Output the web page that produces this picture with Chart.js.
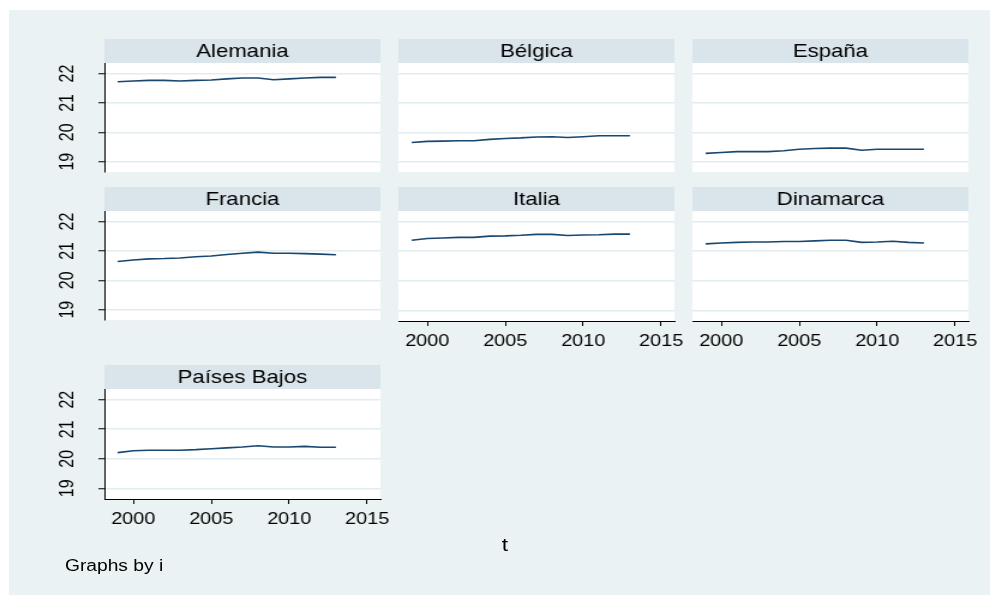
<!DOCTYPE html>
<html lang="es">
<head>
<meta charset="utf-8">
<title>Graphs by i</title>
<script src="https://cdn.jsdelivr.net/npm/chart.js@4.4.1/dist/chart.umd.min.js"></script>
<style>
  html, body { margin: 0; padding: 0; background: #ffffff; }
  body { width: 990px; height: 595px; position: relative; overflow: hidden;
         font-family: Arial, "Liberation Sans", sans-serif; }
  /* graph region */
  #region { position: absolute; left: 9px; top: 10px; right: 0; bottom: 0; background: #eaf2f3; }
  /* everything is laid out narrow and stretched sideways, like the exported graph */
  #stage { position: absolute; left: 0; top: 0; width: 825px; height: 595px;
           transform: scaleX(1.2); transform-origin: 0 0; }
  .panel { position: absolute; width: 292px; }
  .note { position: absolute; color: #000; white-space: nowrap; }
  #xtitle { font-size: 19px; transform: translateX(-50%); }
  #byline { font-size: 16px; }
</style>
</head>
<body>
<div id="region"></div>
<div id="stage">
  <div class="note" id="xtitle">t</div>
  <div class="note" id="byline">Graphs by i</div>
</div>

<script>
// ===============================
// Data
// ===============================
const years = [1999, 2000, 2001, 2002, 2003, 2004, 2005, 2006, 2007, 2008, 2009, 2010, 2011, 2012, 2013];
const xTicks = [2000, 2005, 2010, 2015];
const yTicks = [19, 20, 21, 22];
const countries = ['Alemania', 'Bélgica', 'España', 'Francia', 'Italia', 'Dinamarca', 'Países Bajos'];

const alemania   = [21.72, 21.75, 21.77, 21.77, 21.75, 21.77, 21.78, 21.82, 21.85, 21.85, 21.79, 21.82, 21.85, 21.87, 21.87];
const belgica    = [19.65, 19.69, 19.70, 19.71, 19.71, 19.76, 19.79, 19.81, 19.84, 19.85, 19.82, 19.85, 19.88, 19.88, 19.88];
const espana     = [19.28, 19.31, 19.34, 19.34, 19.34, 19.37, 19.42, 19.45, 19.46, 19.46, 19.39, 19.42, 19.42, 19.42, 19.42];
const francia    = [20.64, 20.69, 20.73, 20.74, 20.76, 20.80, 20.83, 20.88, 20.92, 20.96, 20.92, 20.92, 20.91, 20.89, 20.87];
const italia     = [21.37, 21.43, 21.45, 21.47, 21.47, 21.51, 21.52, 21.54, 21.57, 21.57, 21.53, 21.55, 21.56, 21.58, 21.58];
const dinamarca  = [21.25, 21.28, 21.30, 21.31, 21.31, 21.33, 21.33, 21.35, 21.37, 21.37, 21.30, 21.31, 21.34, 21.30, 21.28];
const paisesBajos = [20.21, 20.27, 20.29, 20.29, 20.29, 20.31, 20.34, 20.37, 20.40, 20.44, 20.40, 20.40, 20.42, 20.39, 20.39];

const seriesByCountry = [alemania, belgica, espana, francia, italia, dinamarca, paisesBajos];

// ===============================
// Layout (page pixels; divided by SX inside the stretched stage)
// ===============================
const SX = 1.2;
const colLeft = [104, 398, 692];   // left edge of each plot area
const rowTop = [39, 187, 365];     // top edge of each header strip
const AXIS_W = 42;                 // room for the y labels (stage units)
const RIGHT_PAD = 20;              // room for the last x label
const STRIP_H = 24;
const PLOT_H = 110;
const XAXIS_H = 30;
const FONT = 'Arial, "Liberation Sans", sans-serif';

const stage = document.getElementById('stage');
document.getElementById('xtitle').style.left = (505 / SX) + 'px';
document.getElementById('xtitle').style.top = '534px';
document.getElementById('byline').style.left = (65 / SX) + 'px';
document.getElementById('byline').style.top = '557px';

// header strip + white plot area behind each panel
const panelBackground = {
  id: 'panelBackground',
  beforeDraw(chart) {
    const { ctx, chartArea: a } = chart;
    ctx.save();
    ctx.fillStyle = '#d9e5eb';
    ctx.fillRect(a.left, 0, a.right - a.left, a.top);
    ctx.fillStyle = '#ffffff';
    ctx.fillRect(a.left, a.top, a.right - a.left, a.bottom - a.top);
    ctx.restore();
  }
};

// keep tick labels from pushing the plot area around
function noPadding(s) {
  s.paddingTop = 0;
  s.paddingBottom = 0;
  s.paddingLeft = 0;
  s.paddingRight = 0;
}

function renderPanel(i) {
  const col = i % 3;
  const row = Math.floor(i / 3);
  const showY = col === 0;
  const showX = i + 3 >= countries.length;   // last panel in each column

  const box = document.createElement('div');
  box.className = 'panel';
  box.style.left = (colLeft[col] / SX - AXIS_W) + 'px';
  box.style.top = rowTop[row] + 'px';
  box.style.height = (STRIP_H + PLOT_H + (showX ? XAXIS_H : 0)) + 'px';
  const canvas = document.createElement('canvas');
  box.appendChild(canvas);
  stage.appendChild(box);

  const points = years.map((t, k) => ({ x: t, y: seriesByCountry[i][k] }));

  new Chart(canvas.getContext('2d'), {
    type: 'line',
    data: {
      datasets: [{
        label: countries[i],
        data: points,
        borderColor: '#1a476f',
        borderWidth: 1.6,
        pointRadius: 0,
        tension: 0,
        fill: false
      }]
    },
    options: {
      responsive: true,
      maintainAspectRatio: false,
      animation: false,
      layout: { padding: { top: 0, left: 0, bottom: 0, right: RIGHT_PAD } },
      plugins: {
        legend: { display: false },
        tooltip: { enabled: false },
        title: {
          display: true,
          text: countries[i],
          fullSize: false,
          color: '#000',
          font: { family: FONT, size: 18.5, weight: 'normal', lineHeight: 1.05 },
          padding: { top: 2.8, bottom: 1.8 }
        }
      },
      scales: {
        x: {
          type: 'linear',
          display: showX,
          min: 1998.15,
          max: 2015.85,
          afterBuildTicks: s => { s.ticks = xTicks.map(v => ({ value: v })); },
          afterFit: s => {
            s.height = showX ? XAXIS_H : 0;
            noPadding(s);
          },
          grid: { drawOnChartArea: false, drawTicks: true, tickLength: 5, tickColor: '#000', tickWidth: 1 },
          border: { display: true, color: '#000', width: 1 },
          ticks: {
            color: '#000',
            padding: 6,
            maxRotation: 0,
            font: { family: FONT, size: 16.5 },
            callback: v => String(v)
          }
        },
        y: {
          type: 'linear',
          min: 18.64,
          max: 22.36,
          afterBuildTicks: s => { s.ticks = yTicks.map(v => ({ value: v })); },
          afterCalculateLabelRotation: s => { s.labelRotation = 90; },
          afterFit: s => {
            s.width = AXIS_W;
            noPadding(s);
          },
          grid: { color: '#e3ecef', lineWidth: 1.5, drawTicks: showY, tickLength: 5, tickColor: '#000', tickWidth: 1 },
          border: { display: showY, color: '#000', width: 1 },
          ticks: {
            display: showY,
            color: '#000',
            padding: 17,
            crossAlign: 'center',
            font: { family: FONT, size: 16 },
            callback: v => String(v)
          }
        }
      }
    },
    plugins: [panelBackground]
  });
}

countries.forEach((name, i) => renderPanel(i));
</script>
</body>
</html>
